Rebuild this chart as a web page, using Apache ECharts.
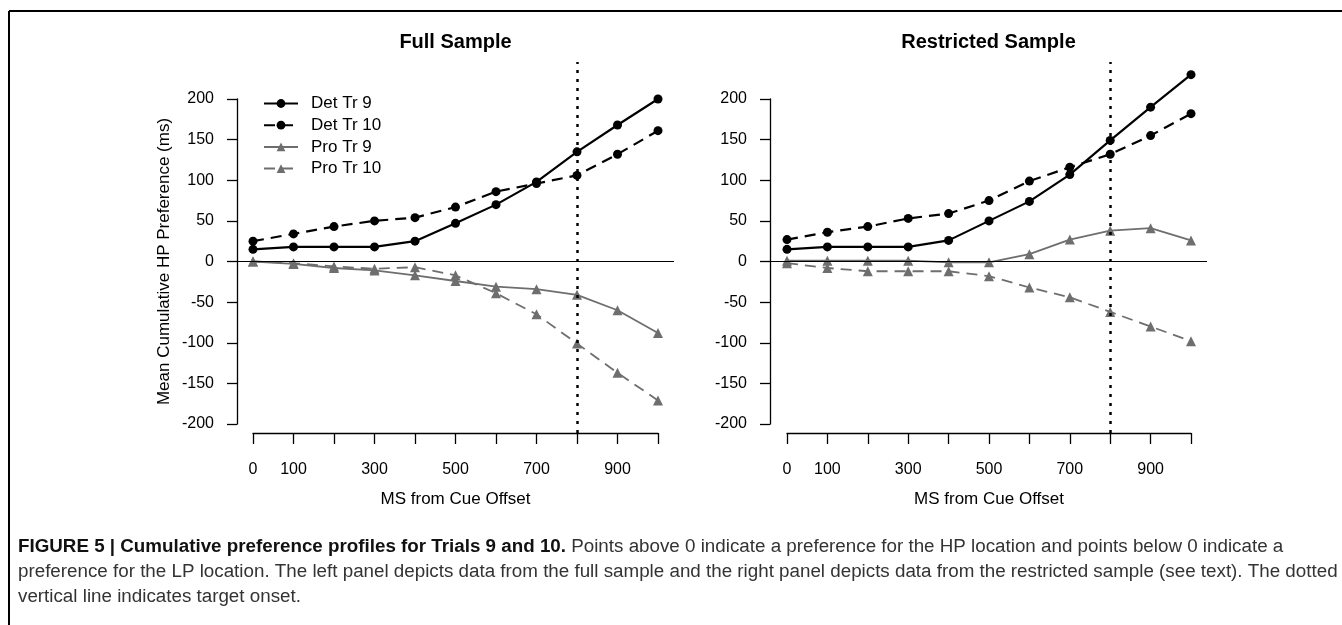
<!DOCTYPE html>
<html>
<head>
<meta charset="utf-8">
<title>Cumulative preference profiles</title>
<script src="https://cdn.jsdelivr.net/npm/echarts@6/dist/echarts.min.js"></script>
<style>
  html, body { margin: 0; padding: 0; background: #fff; }
  #chart { width: 1342px; height: 625px; }
</style>
</head>
<body>
<div id="chart"></div>
<script>
// x values (ms from cue offset) and tick labels
const ms = [0, 100, 200, 300, 400, 500, 600, 700, 800, 900, 1000];
const xLabelValues = [0, 100, 300, 500, 700, 900];
const yLabelValues = [-200, -150, -100, -50, 0, 50, 100, 150, 200];
const targetOnset = 800;

const seriesNames = ['Det Tr 9', 'Det Tr 10', 'Pro Tr 9', 'Pro Tr 10'];
const panelTitles = ['Full Sample', 'Restricted Sample'];

// full sample
const fullDet9 = [15, 18, 18, 18, 25, 47, 70, 98, 135, 168, 200];
const fullDet10 = [25, 34, 43, 50, 54, 67, 86, 96, 106, 132, 161];
const fullPro9 = [0, -3, -8, -11, -17, -24, -31, -34, -41, -60, -88];
const fullPro10 = [0, -2, -6, -9, -7, -17, -39, -65, -101, -137, -171];

// restricted sample
const restDet9 = [15, 18, 18, 18, 26, 50, 74, 107, 149, 190, 230];
const restDet10 = [27, 36, 43, 53, 59, 75, 99, 116, 132, 155, 182];
const restPro9 = [1, 1, 1, 1, -1, -1, 9, 27, 38, 41, 26];
const restPro10 = [-2, -8, -12, -12, -12, -18, -32, -44, -62, -80, -98];

const panelData = [
  [fullDet9, fullDet10, fullPro9, fullPro10],
  [restDet9, restDet10, restPro9, restPro10]
];

// caption lines (wrapped as in the figure)
const captionBold = 'FIGURE 5 | Cumulative preference profiles for Trials 9 and 10.';
const captionLines = [
  ' Points above 0 indicate a preference for the HP location and points below 0 indicate a',
  'preference for the LP location. The left panel depicts data from the full sample and the right panel depicts data from the restricted sample (see text). The dotted',
  'vertical line indicates target onset.'
];

// layout (pixels)
const FONT = '"Liberation Sans", Arial, Helvetica, sans-serif';
const GRAY = '#6e6e6e';
const plotTop = 62, axisY = 433, y200 = 99, yM200 = 424;
const panels = [
  { axisX: 237, x0: 253, x1: 658, right: 674 },
  { axisX: 770, x0: 787, x1: 1191, right: 1207 }
];

const styles = [
  { color: '#000', type: 'solid', width: 2.2, symbol: 'circle', size: 9 },
  { color: '#000', type: [11, 7], width: 2.2, symbol: 'circle', size: 9 },
  { color: GRAY, type: 'solid', width: 1.8, symbol: 'triangle', size: 10 },
  { color: GRAY, type: [11, 7], width: 1.8, symbol: 'triangle', size: 10 }
];

const grid = [], xAxis = [], yAxis = [], series = [], title = [];

panels.forEach((p, i) => {
  const pxPerX = (p.x1 - p.x0) / 1000;
  const pxPerY = (yM200 - y200) / 400;
  const g = i * 3;

  // data grid (R plot region)
  grid.push({ left: p.axisX, top: plotTop, width: p.right - p.axisX, height: axisY - plotTop });
  xAxis.push({
    gridIndex: g, type: 'value', show: false,
    min: -(p.x0 - p.axisX) / pxPerX, max: 1000 + (p.right - p.x1) / pxPerX
  });
  yAxis.push({
    gridIndex: g, type: 'value', show: false,
    min: -200 - (axisY - yM200) / pxPerY, max: 200 + (y200 - plotTop) / pxPerY
  });

  // x axis grid (axis drawn from 0 to 1000 only)
  grid.push({ left: p.x0, top: axisY - 1, width: p.x1 - p.x0, height: 1 });
  xAxis.push({
    gridIndex: g + 1, type: 'value', min: 0, max: 1000, interval: 100,
    position: 'bottom',
    axisLine: { show: true, lineStyle: { color: '#000', width: 1.3 } },
    axisTick: { show: true, length: 11, lineStyle: { color: '#000', width: 1.3 } },
    axisLabel: { customValues: xLabelValues, margin: 29, color: '#000', fontSize: 16, fontFamily: FONT },
    splitLine: { show: false },
    name: 'MS from Cue Offset', nameLocation: 'middle', nameGap: 58,
    nameTextStyle: { color: '#000', fontSize: 17, fontFamily: FONT }
  });
  yAxis.push({ gridIndex: g + 1, type: 'value', show: false, min: 0, max: 1 });

  // y axis grid (axis drawn from -200 to 200 only)
  grid.push({ left: p.axisX, top: y200, width: 1, height: yM200 - y200 });
  xAxis.push({ gridIndex: g + 2, type: 'value', show: false, min: 0, max: 1 });
  yAxis.push({
    gridIndex: g + 2, type: 'value', min: -200, max: 200, interval: 50,
    position: 'left',
    axisLine: { show: true, lineStyle: { color: '#000', width: 1.3 } },
    axisTick: { show: true, length: 10, lineStyle: { color: '#000', width: 1.3 } },
    axisLabel: { customValues: yLabelValues, margin: 23, color: '#000', fontSize: 16, fontFamily: FONT },
    splitLine: { show: false },
    name: i === 0 ? 'Mean Cumulative HP Preference (ms)' : '',
    nameLocation: 'middle', nameGap: 64, nameRotate: 90,
    nameTextStyle: { color: '#000', fontSize: 17, fontFamily: FONT }
  });

  title.push({
    text: panelTitles[i],
    left: (p.axisX + p.right) / 2, top: 32, textAlign: 'center', padding: 0,
    textStyle: { fontSize: 20, fontWeight: 'bold', color: '#000', fontFamily: FONT }
  });

  panelData[i].forEach((vals, k) => {
    const s = styles[k];
    const item = {
      name: seriesNames[k],
      type: 'line',
      xAxisIndex: g, yAxisIndex: g,
      data: vals.map((v, j) => [ms[j], v]),
      symbol: s.symbol, symbolSize: s.size,
      itemStyle: { color: s.color },
      lineStyle: { color: s.color, type: s.type, width: s.width },
      z: 3 + (3 - k)
    };
    if (k === 0) {
      item.markLine = {
        silent: true, symbol: 'none', animation: false,
        label: { show: false },
        data: [
          { yAxis: 0, lineStyle: { color: '#000', type: 'solid', width: 1.2 } },
          { xAxis: targetOnset, lineStyle: { color: '#000', type: [3, 6], width: 2.5 } }
        ]
      };
    }
    series.push(item);
  });
});

const capFont = 18.8;
const option = {
  animation: false,
  backgroundColor: '#fff',
  textStyle: { fontFamily: FONT },
  title: title,
  legend: {
    data: seriesNames,
    orient: 'vertical',
    left: 263, top: 95, padding: 0,
    itemWidth: 34, itemHeight: 11, itemGap: 4.7,
    textStyle: { fontSize: 17, color: '#000', fontFamily: FONT, padding: [0, 0, 0, 8] }
  },
  grid: grid,
  xAxis: xAxis,
  yAxis: yAxis,
  series: series,
  graphic: [
    { type: 'line', shape: { x1: 9, y1: 11, x2: 1342, y2: 11 }, style: { stroke: '#000', lineWidth: 2 } },
    { type: 'line', shape: { x1: 9, y1: 11, x2: 9, y2: 625 }, style: { stroke: '#000', lineWidth: 2 } },
    {
      type: 'text', x: 18, y: 547,
      style: {
        text: '{b|' + captionBold + '}' + captionLines[0],
        fontSize: capFont, fontFamily: FONT, fill: '#333', verticalAlign: 'middle',
        rich: { b: { fontWeight: 'bold', fill: '#111', fontSize: capFont, fontFamily: FONT } }
      }
    },
    {
      type: 'text', x: 18, y: 572,
      style: { text: captionLines[1], fontSize: capFont, fontFamily: FONT, fill: '#333', verticalAlign: 'middle' }
    },
    {
      type: 'text', x: 18, y: 597,
      style: { text: captionLines[2], fontSize: capFont, fontFamily: FONT, fill: '#333', verticalAlign: 'middle' }
    }
  ]
};

const chart = echarts.init(document.getElementById('chart'));
chart.setOption(option);
</script>
</body>
</html>
